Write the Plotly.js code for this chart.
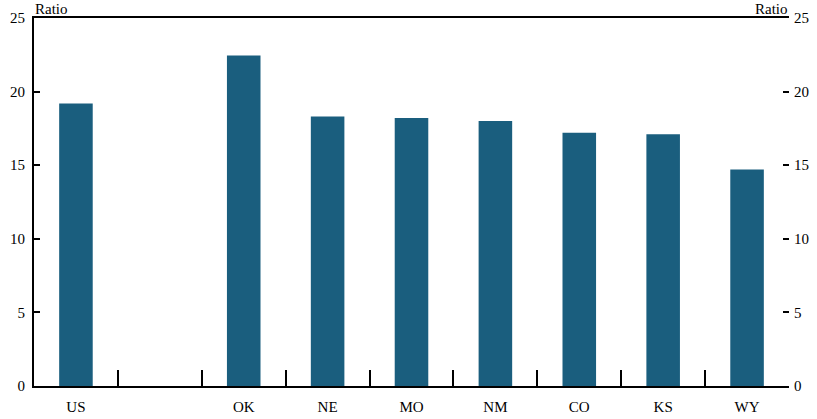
<!DOCTYPE html>
<html><head><meta charset="utf-8">
<script src="https://cdn.plot.ly/plotly-3.0.1.min.js"></script>
<style>body{margin:0;padding:0}#c{width:817px;height:419px}</style>
</head><body><div id="c"></div>
<script>
const categories = ["US", " ", "OK", "NE", "MO", "NM", "CO", "KS", "WY"];
const values = [19.2, null, 22.45, 18.3, 18.2, 18.0, 17.2, 17.1, 14.7];
const yTicks = [0, 5, 10, 15, 20, 25];
const unitLabel = "Ratio";

const font = {family: "'Liberation Serif', 'DejaVu Serif', 'Times New Roman', serif", size: 15, color: "#000"};
const dividers = categories.slice(1).map((_, i) => i + 0.5);

const data = [
  {type: "bar", x: categories, y: values, marker: {color: "#1a5e7e"}, width: 0.4, xaxis: "x", yaxis: "y", hoverinfo: "none"},
  {type: "scatter", x: [categories[0]], y: [0], yaxis: "y2", xaxis: "x", mode: "markers", marker: {opacity: 0}, showlegend: false, hoverinfo: "none"},
  {type: "scatter", x: [0], y: [0], xaxis: "x2", yaxis: "y", mode: "markers", marker: {opacity: 0}, showlegend: false, hoverinfo: "none"}
];

const layout = {
  width: 817, height: 419,
  margin: {l: 34, r: 28, t: 18, b: 33},
  paper_bgcolor: "#fff", plot_bgcolor: "#fff",
  font: font,
  showlegend: false,
  bargap: 0.6,
  xaxis: {
    type: "category", categoryarray: categories, categoryorder: "array",
    range: [-0.5, categories.length - 0.5],
    showline: true, linecolor: "#000", linewidth: 2, mirror: true,
    ticks: "", showgrid: false, zeroline: false,
    tickfont: font, ticklabelstandoff: 6
  },
  xaxis2: {
    overlaying: "x", side: "bottom", anchor: "y",
    range: [-0.5, categories.length - 0.5],
    tickvals: dividers, ticks: "inside", ticklen: 16, tickwidth: 2, tickcolor: "#000",
    showticklabels: false, showgrid: false, zeroline: false, showline: false
  },
  yaxis: {
    range: [0, 25], tickvals: yTicks, ticks: "inside", ticklen: 6, tickwidth: 2, tickcolor: "#000",
    showline: true, linecolor: "#000", linewidth: 2,
    showgrid: false, zeroline: false, tickfont: font, ticklabelstandoff: 4
  },
  yaxis2: {
    overlaying: "y", side: "right", anchor: "x",
    range: [0, 25], tickvals: yTicks, ticks: "inside", ticklen: 6, tickwidth: 2, tickcolor: "#000",
    showline: false, showgrid: false, zeroline: false, tickfont: font, ticklabelstandoff: 4
  },
  annotations: [
    {xref: "paper", yref: "paper", x: 0, y: 1, xanchor: "left", yanchor: "bottom", text: unitLabel, showarrow: false, font: {family: font.family, size: 15, color: "#000"}, yshift: -1, xshift: -1},
    {xref: "paper", yref: "paper", x: 1, y: 1, xanchor: "right", yanchor: "bottom", text: unitLabel, showarrow: false, font: {family: font.family, size: 15, color: "#000"}, yshift: -1, xshift: 1}
  ]
};

Plotly.newPlot("c", data, layout, {staticPlot: true});
</script>
</body></html>
